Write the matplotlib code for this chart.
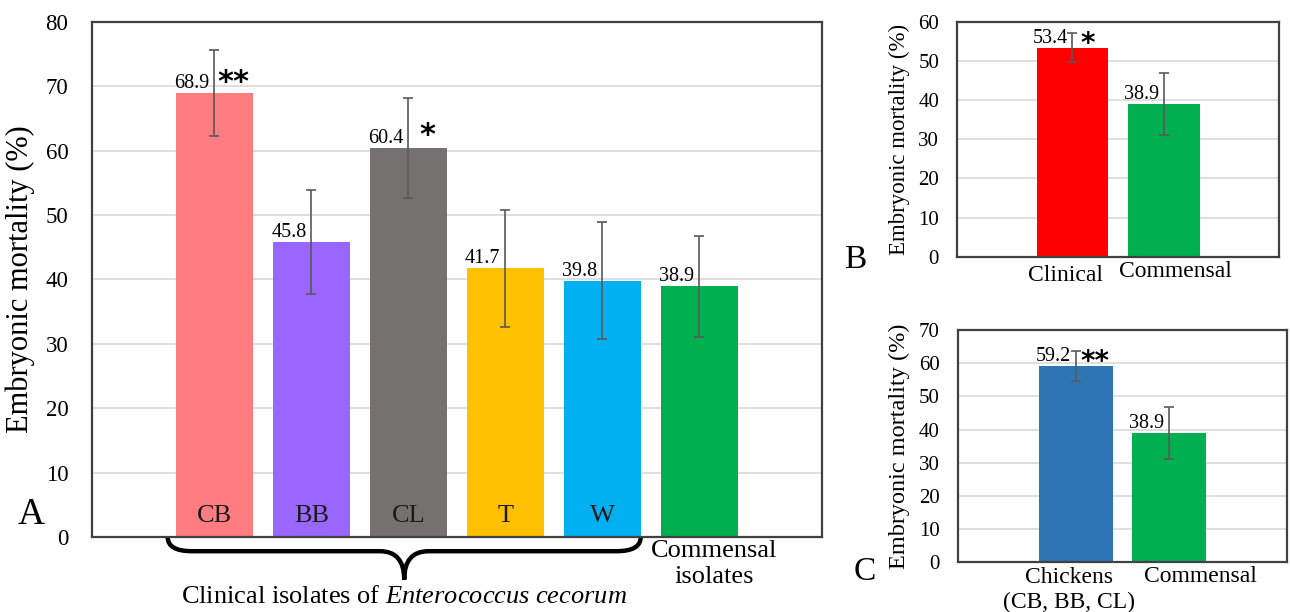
import numpy as np
import matplotlib
matplotlib.use("Agg")
from matplotlib import pyplot as plt
from matplotlib.path import Path
from matplotlib.patches import PathPatch

plt.rcParams['font.family'] = ['Liberation Serif', 'DejaVu Serif']
plt.rcParams['mathtext.fontset'] = 'custom'
plt.rcParams['mathtext.rm'] = 'Liberation Serif'
plt.rcParams['mathtext.it'] = 'Liberation Serif:italic'

# panel A data
a_names = ["CB", "BB", "CL", "T", "W", "Commensal"]
a_values = [68.9, 45.8, 60.4, 41.7, 39.8, 38.9]
a_errors = [6.65, 8.0, 7.8, 9.1, 9.05, 7.85]
a_colors = ["#FF7C80", "#9966FF", "#767171", "#FFC000", "#00B0F0", "#00B050"]
a_stars = ["**", "", "*", "", "", ""]

# panel B data
b_names = ["Clinical", "Commensal"]
b_values = [53.4, 38.9]
b_errors = [3.75, 7.95]
b_colors = ["#FF0000", "#00B050"]
b_stars = ["*", ""]

# panel C data
c_names = ["Chickens\n(CB, BB, CL)", "Commensal"]
c_values = [59.2, 38.9]
c_errors = [4.45, 7.85]
c_colors = ["#2E75B6", "#00B050"]
c_stars = ["**", ""]

fig = plt.figure(figsize=(12.9, 6.12), dpi=100)
axA = fig.add_axes([0.0713, 0.1225, 0.5657, 0.842])
axB = fig.add_axes([0.742, 0.5806, 0.2496, 0.3839])
axC = fig.add_axes([0.7426, 0.0812, 0.255, 0.3796])


def draw_panel(ax, values, errors, colors, stars, ymax, width, fs_tick, pad, fs_star, star_dx):
    x = np.arange(len(values))
    ax.bar(x, values, width=width, color=colors, zorder=2)
    ax.errorbar(x, values, yerr=errors, fmt='none', ecolor='#595959',
                elinewidth=1.2, capsize=3.5, capthick=1.2, zorder=3)
    ax.set_xlim(-1.26, len(values) - 1 + 1.26)
    ax.set_ylim(0, ymax)
    ax.set_yticks(np.arange(0, ymax + 1, 10))
    ax.yaxis.grid(True, color='#D9D9D9', lw=1.2, zorder=0)
    ax.set_axisbelow(True)
    ax.tick_params(axis='y', length=0, pad=pad, labelsize=fs_tick)
    ax.tick_params(axis='x', length=0)
    ax.set_xticks([])
    for s in ax.spines.values():
        s.set_color('#404040')
        s.set_linewidth(1.6)
    for i, v in enumerate(values):
        ax.text(i - 0.05, v, f"{v:.1f}", ha='right', va='bottom', fontsize=14.5)
        if stars[i]:
            ax.text(i + star_dx, v + errors[i] * 0.25, stars[i], ha='center', va='center',
                    fontsize=fs_star, fontweight='bold', family='DejaVu Sans')
    return x


xa = draw_panel(axA, a_values, a_errors, a_colors, a_stars, 80, 0.79, 16.5, 17, 22, 0.2)
axA.set_ylabel("Embryonic mortality (%)", fontsize=22)
axA.yaxis.set_label_coords(-0.078, 0.5)
for i, name in enumerate(a_names[:-1]):
    axA.text(i, 3.3, name, ha='center', va='center', fontsize=19, color='#1a1a1a')
axA.text(5.15, -0.5, "Commensal\nisolates", ha='center', va='top', fontsize=19, linespacing=1.2)

# curly brace under clinical bars
x0 = xa[0] - 0.48
x1 = xa[4] + 0.395
xm = (x0 + x1) / 2
h1, h2, d = 2.2, 6.6, 0.25
verts = [(x0, 0), (x0, -h1), (x0 + d, -h1), (xm - d, -h1), (xm, -h1), (xm, -h2),
         (xm, -h1), (xm + d, -h1), (x1 - d, -h1), (x1, -h1), (x1, 0)]
codes = [Path.MOVETO, Path.CURVE3, Path.CURVE3, Path.LINETO, Path.CURVE3, Path.CURVE3,
         Path.CURVE3, Path.CURVE3, Path.LINETO, Path.CURVE3, Path.CURVE3]
axA.add_patch(PathPatch(Path(verts, codes), fill=False, lw=3.2, color='black',
                        clip_on=False, transform=axA.transData))
axA.text(xm, -7.6, r"Clinical isolates of $\it{Enterococcus\ cecorum}$", ha='center', va='top', fontsize=19)

draw_panel(axB, b_values, b_errors, b_colors, b_stars, 60, 0.78, 15, 13, 20, 0.17)
axB.set_ylabel("Embryonic mortality (%)", fontsize=16.5)
axB.yaxis.set_label_coords(-0.146, 0.5)
axB.text(-0.08, -2.0, b_names[0], ha='center', va='top', fontsize=17)
axB.text(1.13, -1.2, b_names[1], ha='center', va='top', fontsize=17)

draw_panel(axC, c_values, c_errors, c_colors, c_stars, 70, 0.79, 15, 13, 20, 0.21)
axC.set_ylabel("Embryonic mortality (%)", fontsize=17.5)
axC.yaxis.set_label_coords(-0.146, 0.5)
axC.text(-0.07, -1.5, c_names[0], ha='center', va='top', fontsize=17, linespacing=1.25)
axC.text(1.33, -1.2, c_names[1], ha='center', va='top', fontsize=17)

fig.text(31 / 1290, 1 - 515 / 612, "A", ha='center', va='center', fontsize=27)
fig.text(855 / 1290, 1 - 260 / 612, "B", ha='center', va='center', fontsize=24)
fig.text(865 / 1290, 1 - 572 / 612, "C", ha='center', va='center', fontsize=24)

fig.savefig("out.png", dpi=100)
